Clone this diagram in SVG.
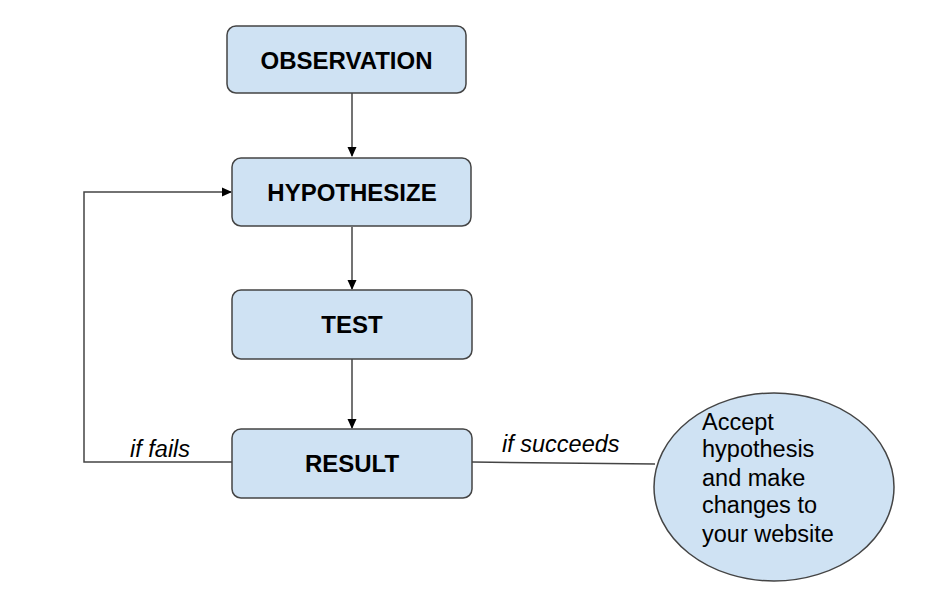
<svg xmlns="http://www.w3.org/2000/svg" width="931" height="593" viewBox="0 0 931 593">
<style>
.box{fill:#cfe2f3;stroke:#444;stroke-width:1.5}
.lbl{font-family:"Liberation Sans",Arial,sans-serif;font-weight:bold;font-size:24px;fill:#000;text-anchor:middle}
.it{font-family:"Liberation Sans",Arial,sans-serif;font-style:italic;font-size:23.5px;fill:#000}
.ct{font-family:"Liberation Sans",Arial,sans-serif;font-size:23.5px;fill:#000}
.ln{fill:none;stroke:#444;stroke-width:1.5}
</style>
<defs>
<marker id="ah" markerWidth="10" markerHeight="10" refX="9" refY="5" orient="auto" markerUnits="userSpaceOnUse">
<path d="M0,0.5 L10,5 L0,9.5 z" fill="#000"/>
</marker>
</defs>
<rect width="931" height="593" fill="#fff"/>
<g id="connectors">
<line class="ln" x1="352" y1="93" x2="352" y2="156" marker-end="url(#ah)"/>
<line class="ln" x1="352" y1="227" x2="352" y2="289" marker-end="url(#ah)"/>
<line class="ln" x1="352" y1="359" x2="352" y2="428" marker-end="url(#ah)"/>
<polyline class="ln" points="232,462 84,462 84,192 231,192" marker-end="url(#ah)"/>
<line class="ln" x1="472" y1="462" x2="655" y2="464"/>
<text class="it" x="130" y="457">if fails</text>
<text class="it" x="502" y="452">if succeeds</text>
</g>
<g id="observation">
<rect class="box" x="227" y="26" width="239" height="67" rx="9"/>
<text class="lbl" x="346.5" y="69">OBSERVATION</text>
</g>
<g id="hypothesize">
<rect class="box" x="232" y="158" width="239" height="68" rx="9"/>
<text class="lbl" x="352" y="201">HYPOTHESIZE</text>
</g>
<g id="test">
<rect class="box" x="232" y="290" width="240" height="69" rx="9"/>
<text class="lbl" x="352" y="333">TEST</text>
</g>
<g id="result">
<rect class="box" x="232" y="429" width="240" height="69" rx="9"/>
<text class="lbl" x="352" y="472">RESULT</text>
</g>
<g id="accept">
<ellipse class="box" cx="774" cy="487" rx="120" ry="94"/>
<text class="ct" x="702" y="430">Accept</text>
<text class="ct" x="702" y="457">hypothesis</text>
<text class="ct" x="702" y="486">and make</text>
<text class="ct" x="702" y="513">changes to</text>
<text class="ct" x="702" y="542">your website</text>
</g>
</svg>
